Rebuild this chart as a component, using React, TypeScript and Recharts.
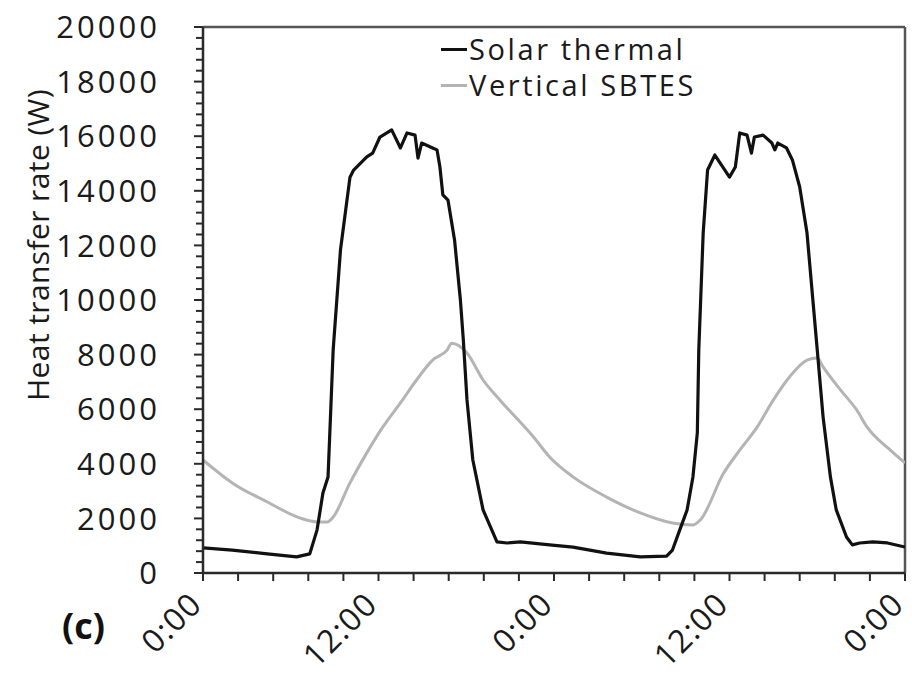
import { Legend, Line, LineChart, ReferenceLine, XAxis, YAxis } from "recharts";

// hours from start (0..48), heat transfer rate in W
const solarHours = [
  0, 2, 4.4, 6.4, 7.3, 7.8, 8.2, 8.55, 8.9, 9.4, 10.05, 10.3, 11.2, 11.6, 12.1, 12.9, 13.5, 13.95, 14.5, 14.7,
  14.95, 15.7, 16.0, 16.2, 16.4, 16.75, 17.2, 17.6, 17.8, 18.05, 18.45, 19.15, 20.1, 20.8, 21.7, 23.7, 25.3, 27.6,
  29.9, 31.7, 32.1, 32.6, 33.1, 33.5, 33.8, 33.9, 34.2, 34.5, 35.0, 36.0, 36.4, 36.7, 37.2, 37.5, 37.7, 38.3, 38.9,
  39.1, 39.3, 39.9, 40.3, 40.8, 41.3, 41.7, 42.0, 42.4, 42.9, 43.3, 44.0, 44.4, 44.9, 45.8, 46.8, 48,
];
const solarWatts = [
  920, 840, 700, 590, 700, 1580, 2930, 3520, 8170, 11830, 14500, 14760, 15240, 15380, 15970, 16230, 15570, 16120, 16040, 15200,
  15750, 15570, 15500, 14870, 13850, 13660, 12200, 10000, 8540, 6340, 4140, 2310, 1140, 1100, 1140, 1030, 950, 730,
  590, 620, 840, 1580, 2310, 3520, 5130, 8170, 12450, 14760, 15310, 14500, 14870, 16120, 16040, 15380, 15970, 16040, 15750,
  15500, 15750, 15570, 15130, 14140, 12450, 10000, 8170, 5710, 3520, 2310, 1320, 1030, 1100, 1140, 1100, 950,
];

const sbtesHours = [
  0, 2, 4.4, 6.6, 7.8, 8.5, 8.9, 10.05, 11.2, 12.3, 13.5, 14.6, 15.7, 16.7, 17.0, 18.05, 19.15, 20.3, 22.6, 23.7,
  25.3, 27.6, 29.9, 32.1, 33.5, 34.0, 35.6, 36.7, 37.9, 39.0, 40.1, 41.3, 42.0, 42.4, 43.6, 44.7, 45.4, 47.0, 48,
];
const sbtesWatts = [
  4140, 3300, 2600, 2020, 1870, 1870, 2050, 3300, 4400, 5350, 6230, 7070, 7800, 8170, 8420, 8060, 7070, 6340, 4980, 4250,
  3520, 2780, 2200, 1830, 1760, 1940, 3660, 4500, 5350, 6340, 7180, 7800, 7880, 7550, 6700, 5970, 5350, 4500, 4030,
];

const xLabelHours = [0, 12, 24, 36, 48];
const xLabels = ["0:00", "12:00", "0:00", "12:00", "0:00"];
const yMajorTicks = [0, 2000, 4000, 6000, 8000, 10000, 12000, 14000, 16000, 18000, 20000];

const solarData = solarHours.map((h, i) => ({ h, w: solarWatts[i] }));
const sbtesData = sbtesHours.map((h, i) => ({ h, w: sbtesWatts[i] }));

const xTicks: number[] = [];
for (let k = 0; k <= 20; k++) xTicks.push(Math.round(k * 2.4 * 100) / 100);
const yTicks: number[] = [];
for (let v = 0; v <= 20000; v += 400) yTicks.push(v);

const FONT = "'Open Sans', sans-serif";
const AXIS = "#2a2a2a";
const TEXT = "#1a1a1a";

function YTick({ x, y, payload }: any) {
  const major = yMajorTicks.includes(payload.value);
  return (
    <g>
      <line x1={x - (major ? 9 : 7)} x2={x} y1={y} y2={y} stroke={AXIS} strokeWidth={2} />
      {major && (
        <text x={x - 43} y={y} dy="0.36em" textAnchor="end" fontFamily={FONT} fontSize={31} letterSpacing={3} fill={TEXT}>
          {payload.value}
        </text>
      )}
    </g>
  );
}

function XTick({ x, y, payload }: any) {
  const idx = xLabelHours.indexOf(payload.value);
  return (
    <g>
      <line x1={x} x2={x} y1={y} y2={y + 8} stroke={AXIS} strokeWidth={2} />
      {idx >= 0 && (
        <text
          transform={`translate(${x + 1},${y + 33}) rotate(-45)`}
          textAnchor="end"
          fontFamily={FONT}
          fontSize={32}
          letterSpacing={1.5}
          fill={TEXT}
        >
          {xLabels[idx]}
        </text>
      )}
    </g>
  );
}

function LegendBox() {
  const rows = [
    { name: "Solar thermal", color: "#111" },
    { name: "Vertical SBTES", color: "#b4b4b4" },
  ];
  return (
    <div style={{ fontFamily: FONT, fontSize: 29, letterSpacing: 2.6, color: TEXT, lineHeight: "36px" }}>
      {rows.map((r) => (
        <div key={r.name} style={{ display: "flex", alignItems: "center", whiteSpace: "nowrap", height: 36 }}>
          <span style={{ display: "inline-block", width: 26, height: 3, background: r.color, marginRight: 2 }} />
          {r.name}
        </div>
      ))}
    </div>
  );
}

export default function App() {
  return (
    <div style={{ position: "absolute", left: 0, top: 0, width: 912, height: 677, background: "#fff" }}>
      <LineChart width={912} height={677} margin={{ top: 27, right: 7, left: 0, bottom: 0 }}>
        <XAxis
          type="number"
          dataKey="h"
          domain={[0, 48]}
          ticks={xTicks}
          interval={0}
          tick={<XTick />}
          tickSize={0}
          tickMargin={0}
          tickLine={false}
          height={104}
          axisLine={{ stroke: AXIS, strokeWidth: 2.5 }}
          allowDataOverflow
          label={{
            content: ({ viewBox }: any) => (
              <text x={viewBox.x - 141} y={viewBox.y + 66} fontFamily={FONT} fontSize={36} fontWeight="bold" fill="#111">
                (c)
              </text>
            ),
          }}
        />
        <YAxis
          type="number"
          domain={[0, 20000]}
          ticks={yTicks}
          interval={0}
          tick={<YTick />}
          tickSize={0}
          tickMargin={0}
          tickLine={false}
          width={203}
          axisLine={{ stroke: AXIS, strokeWidth: 2.5 }}
          label={{
            content: ({ viewBox }: any) => (
              <text
                transform={`translate(${viewBox.x + 49},${viewBox.y + viewBox.height / 2 - 55}) rotate(-90)`}
                textAnchor="middle"
                fontFamily={FONT}
                fontSize={30}
                letterSpacing={0.4}
                fill={TEXT}
              >
                Heat transfer rate (W)
              </text>
            ),
          }}
        />
        <ReferenceLine y={20000} stroke="#555" strokeWidth={2.5} />
        <ReferenceLine x={48} stroke="#555" strokeWidth={2.5} />
        <Legend
          content={<LegendBox />}
          layout="vertical"
          align="center"
          verticalAlign="middle"
          wrapperStyle={{ left: 441, top: 31, width: "auto" }}
        />
        <Line
          data={sbtesData}
          dataKey="w"
          name="Vertical SBTES"
          type="monotone"
          stroke="#b4b4b4"
          strokeWidth={3}
          dot={false}
          isAnimationActive={false}
        />
        <Line
          data={solarData}
          dataKey="w"
          name="Solar thermal"
          type="linear"
          stroke="#111"
          strokeWidth={3.2}
          strokeLinejoin="round"
          dot={false}
          isAnimationActive={false}
        />
      </LineChart>
    </div>
  );
}
